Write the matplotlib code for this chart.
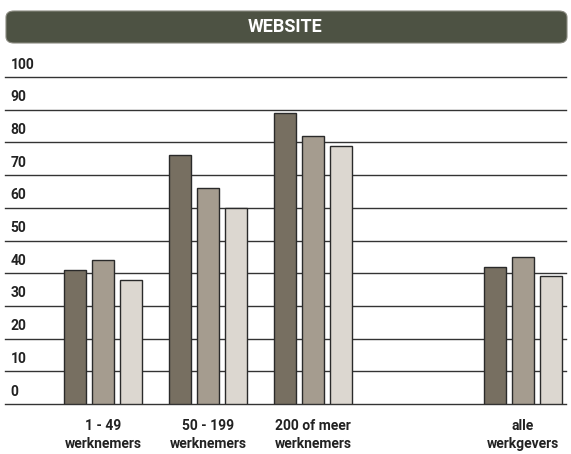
import numpy as np
import matplotlib
matplotlib.use('Agg')
import matplotlib.pyplot as plt
from matplotlib.patches import FancyBboxPatch

# data
title = "WEBSITE"
groups = ["1 - 49\nwerknemers", "50 - 199\nwerknemers", "200 of meer\nwerknemers", "alle\nwerkgevers"]
group_pos = [0, 1, 2, 4]  # empty slot between the size classes and the total
series_a = [41, 76, 89, 42]
series_b = [44, 66, 82, 45]
series_c = [38, 60, 79, 39]
yticks = list(range(0, 101, 10))

colors = ['#776f61', '#a59c8f', '#dcd7d0']
fonts = ['Roboto', 'DejaVu Sans']

fig = plt.figure(figsize=(5.71, 4.54), dpi=100)
ax = fig.add_axes([5 / 571, 1 - 404 / 454, 561 / 571, (404 - 77) / 454])

# horizontal rules, behind the bars
for v in yticks:
    ax.axhline(v, color='#333333', lw=1.0, zorder=1, clip_on=False)
    ax.text(0.01, v + 3.8, str(v), transform=ax.get_yaxis_transform(),
            ha='left', va='center', fontsize=10, fontweight='bold',
            color='#222222', family=fonts)

x = np.array(group_pos, dtype=float)
w = 0.215
off = 0.267
for vals, c, d in zip([series_a, series_b, series_c], colors, [-off, 0, off]):
    ax.bar(x + d, vals, width=w, color=c, edgecolor='#2a2a2a', linewidth=1.0, zorder=3)

ax.set_xlim(-0.933, 4.41)
ax.set_ylim(0, 100)
ax.set_xticks(x)
ax.set_xticklabels(groups, fontsize=10, fontweight='bold', color='#222222',
                   family=fonts, linespacing=1.3)
ax.tick_params(axis='x', length=0, pad=11)
ax.set_yticks([])
for s in ax.spines.values():
    s.set_visible(False)

# title banner
banner = FancyBboxPatch((6 / 571, 1 - 43 / 454), 561 / 571, 32 / 454,
                        boxstyle='round,pad=0,rounding_size=0.014',
                        transform=fig.transFigure, facecolor='#4d5243',
                        edgecolor='#8a8a80', linewidth=0.8)
fig.patches.append(banner)
fig.text(0.5, 1 - 27 / 454, title, ha='center', va='center', color='white',
         fontsize=13, fontweight='bold', family=fonts)

fig.savefig('out.png', dpi=100)
